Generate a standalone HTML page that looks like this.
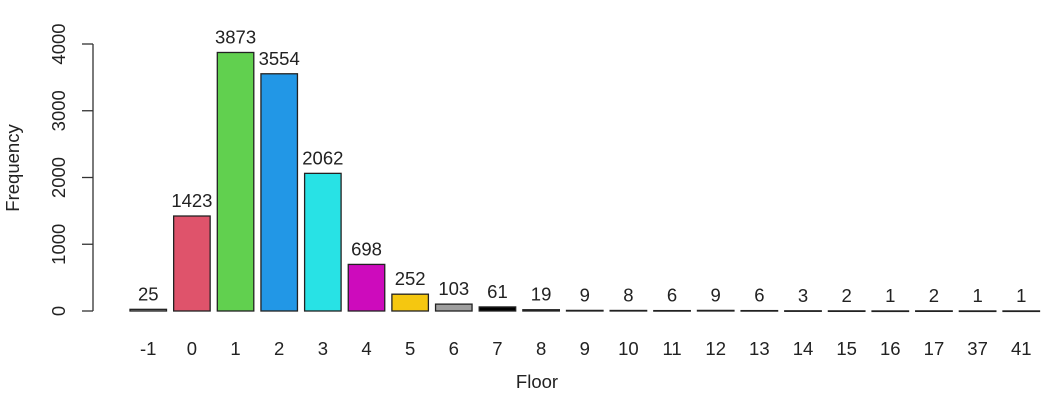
<!DOCTYPE html>
<html><head><meta charset="utf-8"><style>
body{margin:0;background:#fff}
svg text{font-family:"Liberation Sans",Arial,sans-serif;fill:#222}
</style></head><body>
<svg id="chart" width="1051" height="401" xmlns="http://www.w3.org/2000/svg"></svg>
<script>
const categories=["-1","0","1","2","3","4","5","6","7","8","9","10","11","12","13","14","15","16","17","37","41"];
const values=[25,1423,3873,3554,2062,698,252,103,61,19,9,8,6,9,6,3,2,1,2,1,1];
const yTicks=[0,1000,2000,3000,4000];
const palette=["#9E9E9E","#DF536B","#61D04F","#2297E6","#28E2E5","#CD0BBC","#F5C710","#9E9E9E","#000000","#DF536B","#61D04F","#2297E6","#28E2E5","#CD0BBC","#F5C710","#9E9E9E","#000000","#DF536B","#61D04F","#2297E6","#28E2E5"];
const svg=document.getElementById('chart');
const NS="http://www.w3.org/2000/svg";
const y0=311,pxPer=267/4000;
const yScale=v=>y0-v*pxPer;
const step=43.65,bw=36.5,x0=130;
const xLeft=i=>x0+i*step;
const FS=18.5;
function mk(t,a,p){const e=document.createElementNS(NS,t);for(const k in a)e.setAttribute(k,a[k]);(p||svg).appendChild(e);return e;}
const ax=mk('g',{});


mk('line',{x1:93,x2:93,y1:yScale(0),y2:yScale(4000),stroke:'#333','stroke-width':1.3},ax);
yTicks.forEach(v=>{
  const y=yScale(v);
  mk('line',{x1:82,x2:93,y1:y,y2:y,stroke:'#333','stroke-width':1.3},ax);
  const t=mk('text',{x:0,y:0,transform:`translate(65,${y}) rotate(-90)`,'text-anchor':'middle','font-size':FS},ax);
  
  
  t.textContent=v;
});
const yt=mk('text',{transform:'translate(19,168) rotate(-90)','text-anchor':'middle','font-size':FS});


yt.textContent='Frequency';
const xt=mk('text',{x:537,y:388,'text-anchor':'middle','font-size':FS});


xt.textContent='Floor';
values.forEach((v,i)=>{
  const x=xLeft(i),y=yScale(v);
  const r=mk('rect',{x:x,y:y,width:bw,height:Math.max(y0-y,0.5),fill:palette[i],stroke:'#222','stroke-width':1.3});
  
  
  const lab=mk('text',{x:x+bw/2,y:y-9,'text-anchor':'middle','font-size':FS});
  
  
  lab.textContent=v;
  const c=mk('text',{x:x+bw/2,y:355,'text-anchor':'middle','font-size':FS});
  
  
  c.textContent=categories[i];
});
</script>
</body></html>
